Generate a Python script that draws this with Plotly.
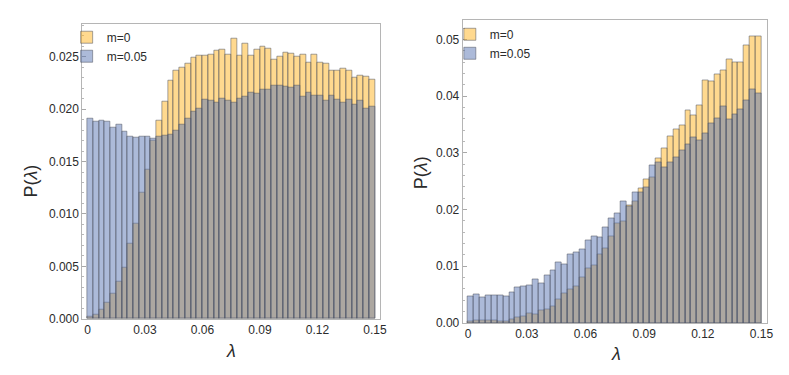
import numpy as np
import plotly.graph_objects as go

# 50 bins of width 0.003 on [0, 0.15]
BIN_EDGES = np.linspace(0, 0.15, 51)
BIN_WIDTH = 0.003

LABELS = ["m=0", "m=0.05"]

# left panel: P(lambda)
left_m0 = [
    0.0002, 0.0004, 0.0009, 0.0015, 0.0024, 0.0035, 0.0049, 0.0072, 0.0091, 0.0120,
    0.0142, 0.0170, 0.0189, 0.0207, 0.0227, 0.0237, 0.0240, 0.0243, 0.0249, 0.0251,
    0.0251, 0.0252, 0.0256, 0.0257, 0.0252, 0.0267, 0.0251, 0.0262, 0.0251, 0.0257,
    0.0260, 0.0258, 0.0247, 0.0250, 0.0254, 0.0253, 0.0250, 0.0252, 0.0244, 0.0252,
    0.0244, 0.0243, 0.0237, 0.0237, 0.0239, 0.0237, 0.0230, 0.0232, 0.0231, 0.0228,
]
left_m005 = [
    0.0191, 0.0188, 0.0189, 0.0188, 0.0182, 0.0185, 0.0178, 0.0174, 0.0173, 0.0174,
    0.0174, 0.0172, 0.0174, 0.0175, 0.0176, 0.0179, 0.0185, 0.0191, 0.0198, 0.0200,
    0.0209, 0.0208, 0.0206, 0.0210, 0.0208, 0.0206, 0.0210, 0.0212, 0.0216, 0.0215,
    0.0219, 0.0219, 0.0222, 0.0222, 0.0221, 0.0220, 0.0222, 0.0212, 0.0216, 0.0213,
    0.0213, 0.0208, 0.0213, 0.0209, 0.0206, 0.0209, 0.0204, 0.0208, 0.0200, 0.0202,
]

# right panel
right_m0 = [
    0.0002, 0.0005, 0.0005, 0.0005, 0.0004, 0.0003, 0.0003, 0.0006, 0.0009, 0.0012,
    0.0016, 0.0015, 0.0022, 0.0024, 0.0029, 0.0042, 0.0052, 0.0060, 0.0064, 0.0080,
    0.0096, 0.0102, 0.0120, 0.0131, 0.0153, 0.0176, 0.0179, 0.0207, 0.0215, 0.0238,
    0.0253, 0.0257, 0.0290, 0.0307, 0.0329, 0.0342, 0.0349, 0.0375, 0.0366, 0.0384,
    0.0427, 0.0426, 0.0439, 0.0446, 0.0465, 0.0460, 0.0460, 0.0489, 0.0505, 0.0506,
]
right_m005 = [
    0.0046, 0.0051, 0.0045, 0.0048, 0.0049, 0.0048, 0.0047, 0.0054, 0.0062, 0.0065,
    0.0067, 0.0076, 0.0070, 0.0083, 0.0093, 0.0107, 0.0104, 0.0121, 0.0125, 0.0130,
    0.0146, 0.0152, 0.0150, 0.0169, 0.0185, 0.0193, 0.0215, 0.0205, 0.0231, 0.0230,
    0.0239, 0.0277, 0.0283, 0.0274, 0.0283, 0.0292, 0.0305, 0.0315, 0.0328, 0.0322,
    0.0335, 0.0352, 0.0361, 0.0382, 0.0359, 0.0368, 0.0377, 0.0393, 0.0411, 0.0405,
]

x_ticks = [0, 0.03, 0.06, 0.09, 0.12, 0.15]
x_ticktext = ["0", "0.03", "0.06", "0.09", "0.12", "0.15"]

FILLS = ["rgba(255,179,31,0.5)", "rgba(90,118,180,0.5)"]
EDGE = "rgba(75,80,92,0.5)"
FONT = "Liberation Sans, Arial, sans-serif"
TEXT_COLOR = "#2b2b2b"
FRAME = "#b5b5b5"

centers = BIN_EDGES[:-1] + BIN_WIDTH / 2

fig = go.Figure()

panels = [
    ("x", "y", "legend", [left_m0, left_m005]),
    ("x2", "y2", "legend2", [right_m0, right_m005]),
]
for xa, ya, leg, series in panels:
    for label, vals, fill in zip(LABELS, series, FILLS):
        fig.add_trace(
            go.Bar(
                x=centers,
                y=vals,
                width=BIN_WIDTH,
                name=label,
                xaxis=xa,
                yaxis=ya,
                legend=leg,
                marker={"color": fill, "line": {"color": EDGE, "width": 1}},
            )
        )

common_x = dict(
    tickvals=x_ticks,
    ticktext=x_ticktext,
    ticks="",
    showgrid=False,
    zeroline=False,
    showline=True,
    mirror=True,
    linecolor=FRAME,
    linewidth=1,
    tickfont={"size": 12, "color": TEXT_COLOR},
)
common_y = dict(
    ticks="inside",
    ticklen=4,
    tickcolor="#a8a8a8",
    showgrid=False,
    zeroline=False,
    showline=True,
    mirror=True,
    linecolor=FRAME,
    linewidth=1,
    tickfont={"size": 12, "color": TEXT_COLOR},
)

fig.update_layout(
    width=789,
    height=375,
    margin=dict(l=0, r=0, t=0, b=0),
    paper_bgcolor="white",
    plot_bgcolor="white",
    barmode="overlay",
    bargap=0,
    font={"family": FONT, "color": TEXT_COLOR},
    xaxis=dict(domain=[0.0951, 0.4753], range=[-0.0027, 0.1525], anchor="y", **common_x),
    yaxis=dict(
        domain=[0.1555, 0.9573], range=[0, 0.02815], anchor="x",
        tickvals=[0, 0.005, 0.01, 0.015, 0.02, 0.025], tickformat=".3f",
        minor=dict(ticks="inside", ticklen=2, dtick=0.001, tickcolor="#b8b8b8"),
        **common_y,
    ),
    xaxis2=dict(domain=[0.5814, 0.9708], range=[-0.0028, 0.1529], anchor="y2", **common_x),
    yaxis2=dict(
        domain=[0.144, 0.9661], range=[0, 0.05334], anchor="x2",
        tickvals=[0, 0.01, 0.02, 0.03, 0.04, 0.05], tickformat=".2f",
        minor=dict(ticks="inside", ticklen=2, dtick=0.002, tickcolor="#b8b8b8"),
        **common_y,
    ),
    legend=dict(
        x=0.075, y=0.96, xanchor="left", yanchor="top",
        bgcolor="rgba(0,0,0,0)", font={"size": 12}, tracegroupgap=0,
        itemclick=False,
    ),
    legend2=dict(
        x=0.565, y=0.968, xanchor="left", yanchor="top",
        bgcolor="rgba(0,0,0,0)", font={"size": 12}, tracegroupgap=0,
        itemclick=False,
    ),
)

# axis titles placed as annotations
for xc, yc, text, angle in [
    (23, 176, "P(<i>λ</i>)", -90),
    (225, 350, "<i>λ</i>", 0),
    (417, 168, "P(<i>λ</i>)", -90),
    (613, 353, "<i>λ</i>", 0),
]:
    fig.add_annotation(
        x=xc / 789, y=1 - yc / 375, xref="paper", yref="paper",
        xanchor="center", yanchor="middle",
        text=text, textangle=angle, showarrow=False,
        font={"size": 18, "color": TEXT_COLOR},
    )

fig.write_html("out.html")
